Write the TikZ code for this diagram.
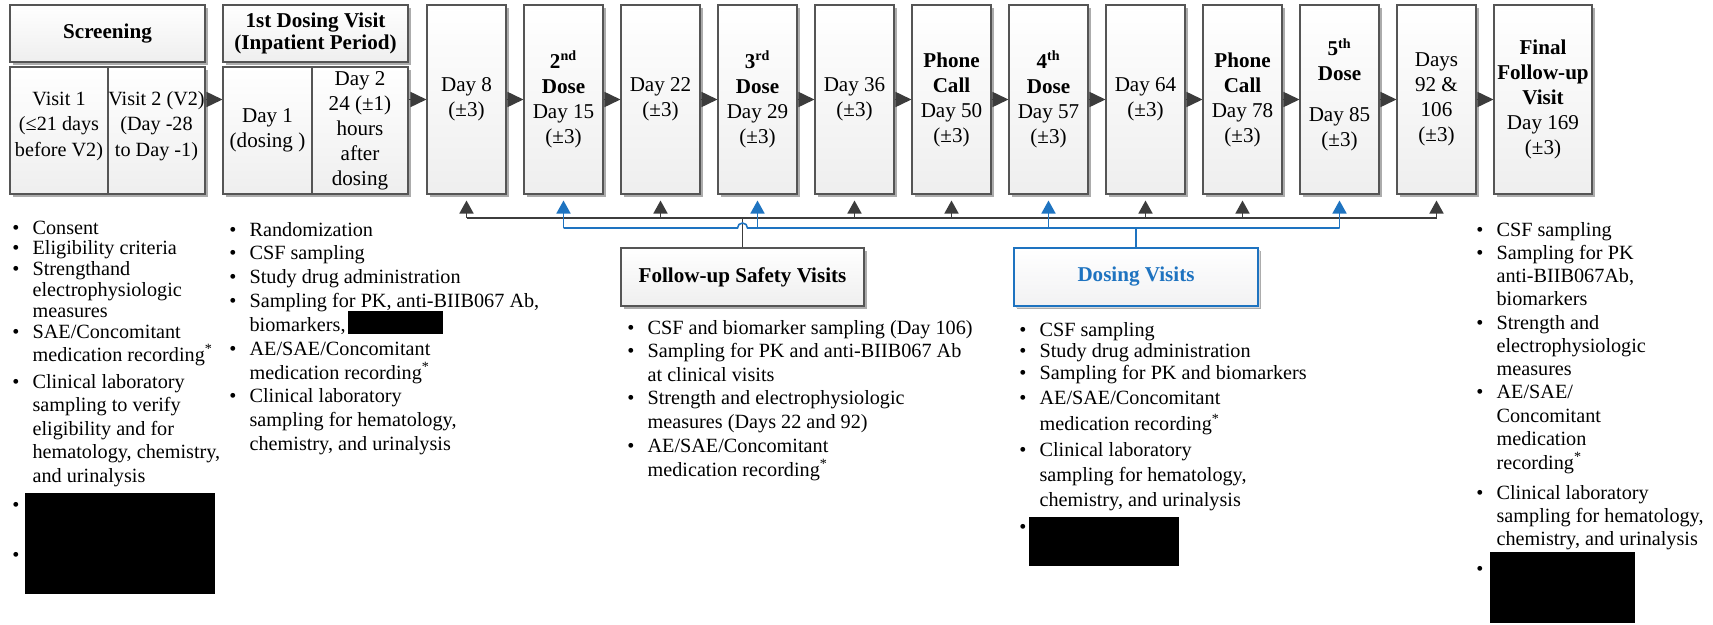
\documentclass[tikz,border=0pt]{standalone}
\usepackage{fontspec}
\setmainfont{Liberation Serif}
\usepackage{xcolor}
\usetikzlibrary{arrows.meta, positioning, calc, shadows}

\definecolor{edgegray}{RGB}{85,85,85}
\definecolor{arrowgray}{RGB}{60,60,60}
\definecolor{doseblue}{RGB}{30,115,192}

\tikzset{
  visit/.style={draw=edgegray, line width=0.6pt, top color=white, bottom color=gray!13,
    inner sep=0pt, align=center, font=\fontsize{12}{14.2}\selectfont,
    general shadow={fill=gray!65, shadow xshift=1.7pt, shadow yshift=-1.7pt}},
  flow/.style={draw=arrowgray, line width=0.9pt, -{Triangle[length=3.2mm, width=3mm]}},
  safety/.style={draw=arrowgray, line width=0.9pt},
  dosing/.style={draw=doseblue, line width=0.9pt},
  notes/.style={anchor=base west, inner sep=0pt},
}

\begin{document}
\begin{tikzpicture}
  \useasboundingbox (0,0) rectangle (34.26,-12.5);

  % === SCREENING ===
  \node[visit, minimum width=3.9cm, minimum height=1.14cm, font=\fontsize{12}{14}\selectfont\bfseries] (scr) at (2.15,-0.67) {Screening};
  \node[visit, minimum width=1.96cm, minimum height=2.54cm, font=\fontsize{11.5}{14.5}\selectfont] (scr1) at (1.18,-2.61) {Visit 1\\(≤21 days\\before V2)\\[-7pt]{}};
  \node[visit, minimum width=1.94cm, minimum height=2.54cm, font=\fontsize{11.5}{14.5}\selectfont] (scr2) at (3.13,-2.61) {Visit 2 (V2)\\(Day -28\\to Day -1)\\[-7pt]{}};

  % === 1ST DOSING VISIT ===
  \node[visit, minimum width=3.7cm, minimum height=1.14cm, font=\fontsize{12}{12.5}\selectfont\bfseries] (dos) at (6.31,-0.67) {1st Dosing Visit\\(Inpatient Period)};
  \node[visit, minimum width=1.78cm, minimum height=2.54cm] (dos1) at (5.35,-2.61) {Day 1\\(dosing )};
  \node[visit, minimum width=1.92cm, minimum height=2.54cm] (dos2) at (7.2,-2.61) {Day 2\\24 (±1)\\hours\\after\\dosing};

  % === VISITS ===
  \foreach \i/\name/\txt in {
      0/d8/{Day 8\\(±3)},
      1/d15/{\textbf{2\textsuperscript{nd}}\\\textbf{Dose}\\Day 15\\(±3)},
      2/d22/{Day 22\\(±3)},
      3/d29/{\textbf{3\textsuperscript{rd}}\\\textbf{Dose}\\Day 29\\(±3)},
      4/d36/{Day 36\\(±3)},
      5/p50/{\textbf{Phone}\\\textbf{Call}\\Day 50\\(±3)},
      6/d57/{\textbf{4\textsuperscript{th}}\\\textbf{Dose}\\Day 57\\(±3)},
      7/d64/{Day 64\\(±3)},
      8/p78/{\textbf{Phone}\\\textbf{Call}\\Day 78\\(±3)},
      9/d85/{\textbf{5\textsuperscript{th}}\\\textbf{Dose}\\[9pt]Day 85\\(±3)\\[-6pt]{}},
      10/d92/{Days\\92 \&\\106\\(±3)}} {
    \node[visit, minimum width=1.58cm, minimum height=3.78cm] (\name) at (9.33+1.94*\i,-1.99) {\txt};
  }
  \node[visit, minimum width=1.96cm, minimum height=3.78cm] (fin) at (30.86,-1.99) {\textbf{Final}\\\textbf{Follow-up}\\\textbf{Visit}\\Day 169\\(±3)};

  % Flow
  \draw[flow] (scr2.east |- d8.west) -- (dos1.west |- d8.west);
  \draw[flow] (dos2.east |- d8.west) -- (d8.west);
  \foreach \a/\b in {d8/d15, d15/d22, d22/d29, d29/d36, d36/p50, p50/d57, d57/d64, d64/p78, p78/d85, d85/d92, d92/fin} {
    \draw[flow] (\a.east) -- (\b.west);
  }

  % === VISIT TYPES ===
  \node[visit, minimum width=4.86cm, minimum height=1.16cm, font=\fontsize{12}{14}\selectfont\bfseries] (fsv) at (14.85,-5.54) {Follow-up Safety Visits};
  \node[visit, draw=doseblue, bottom color=blue!6!gray!10, text=doseblue, minimum width=4.88cm, minimum height=1.16cm, font=\fontsize{12}{14}\selectfont\bfseries,
    general shadow={fill=gray!30, shadow xshift=1.2pt, shadow yshift=-1.2pt}] (dv) at (22.72,-5.54) {Dosing Visits};

  \coordinate (safetybus) at (0,-4.36);
  \coordinate (dosebus) at (0,-4.56);

  % Safety connectors
  \draw[safety] (d8.south |- safetybus) -- (d92.south |- safetybus);
  \draw[safety] (fsv.north) -- (fsv.north |- safetybus);
  \foreach \n in {d8, d22, d36, p50, d64, p78, d92} {
    \draw[safety, -{Triangle[length=2.6mm, width=2.8mm]}, shorten >=3.4pt] (\n.south |- safetybus) -- (\n.south);
  }

  % Dosing connectors (hop over the safety line)
  \draw[dosing] (d15.south |- dosebus) -- ($(fsv.north |- dosebus)+(-0.1,0)$) arc (180:0:0.1) -- (d85.south |- dosebus);
  \draw[dosing] (dv.north) -- (dv.north |- dosebus);
  \foreach \n in {d15, d29, d57, d85} {
    \draw[dosing, -{Triangle[length=2.6mm, width=2.8mm]}, shorten >=3.4pt] (\n.south |- dosebus) -- (\n.south);
  }

  % === NOTES ===
  \node[notes, font=\fontsize{11.5}{11.85}\selectfont] (scrnotes) at (0.24,-4.68) {\begin{tabular}[t]{@{}l@{\hspace{7.5pt}}l@{}}
    \textbullet & Consent\\
    \textbullet & Eligibility criteria\\
    \textbullet & Strengthand\\
     & electrophysiologic\\
     & measures\\
    \textbullet & SAE/Concomitant\\
     & medication recording\textsuperscript{*}\\[3.5pt]
    \textbullet & Clinical laboratory\\[1.5pt]
     & sampling to verify\\[1.5pt]
     & eligibility and for\\[1.5pt]
     & hematology, chemistry,\\[1.5pt]
     & and urinalysis\\[4.7pt]
    \textbullet & \\[17pt]
    \textbullet &
  \end{tabular}};
  \fill[black] (0.5,-9.86) rectangle (4.3,-11.88);

  \node[notes, font=\fontsize{11.5}{13.55}\selectfont] (dosnotes) at (4.58,-4.72) {\begin{tabular}[t]{@{}l@{\hspace{7.5pt}}l@{}}
    \textbullet & Randomization\\
    \textbullet & CSF sampling\\
    \textbullet & Study drug administration\\
    \textbullet & Sampling for PK, anti-BIIB067 Ab,\\
     & biomarkers,\\
    \textbullet & AE/SAE/Concomitant\\
     & medication recording\textsuperscript{*}\\
    \textbullet & Clinical laboratory\\
     & sampling for hematology,\\
     & chemistry, and urinalysis
  \end{tabular}};
  \fill[black] (6.96,-6.22) rectangle (8.86,-6.68);

  \node[notes, font=\fontsize{11.5}{13.45}\selectfont] (fsvnotes) at (12.54,-6.68) {\begin{tabular}[t]{@{}l@{\hspace{7.5pt}}l@{}}
    \textbullet & CSF and biomarker sampling (Day 106)\\
    \textbullet & Sampling for PK and anti-BIIB067 Ab\\
     & at clinical visits\\
    \textbullet & Strength and electrophysiologic\\
     & measures (Days 22 and 92)\\
    \textbullet & AE/SAE/Concomitant\\
     & medication recording\textsuperscript{*}
  \end{tabular}};

  \node[notes, font=\fontsize{11.5}{12.25}\selectfont] (dvnotes) at (20.38,-6.72) {\begin{tabular}[t]{@{}l@{\hspace{7.5pt}}l@{}}
    \textbullet & CSF sampling\\
    \textbullet & Study drug administration\\
    \textbullet & Sampling for PK and biomarkers\\[2pt]
    \textbullet & AE/SAE/Concomitant\\[2pt]
     & medication recording\textsuperscript{*}\\[2pt]
    \textbullet & Clinical laboratory\\[2pt]
     & sampling for hematology,\\[2pt]
     & chemistry, and urinalysis\\[3.1pt]
    \textbullet &
  \end{tabular}};
  \fill[black] (20.58,-10.34) rectangle (23.58,-11.32);

  \node[notes, font=\fontsize{11.5}{13.25}\selectfont] (finnotes) at (29.52,-4.72) {\begin{tabular}[t]{@{}l@{\hspace{7.5pt}}l@{}}
    \textbullet & CSF sampling\\
    \textbullet & Sampling for PK\\
     & anti-BIIB067Ab,\\
     & biomarkers\\
    \textbullet & Strength and\\
     & electrophysiologic\\
     & measures\\
    \textbullet & AE/SAE/\\
     & Concomitant\\
     & medication\\
     & recording\textsuperscript{*}\\[3.8pt]
    \textbullet & Clinical laboratory\\
     & sampling for hematology,\\
     & chemistry, and urinalysis\\[3.8pt]
    \textbullet &
  \end{tabular}};
  \fill[black] (29.8,-11.04) rectangle (32.7,-12.46);
\end{tikzpicture}
\end{document}
